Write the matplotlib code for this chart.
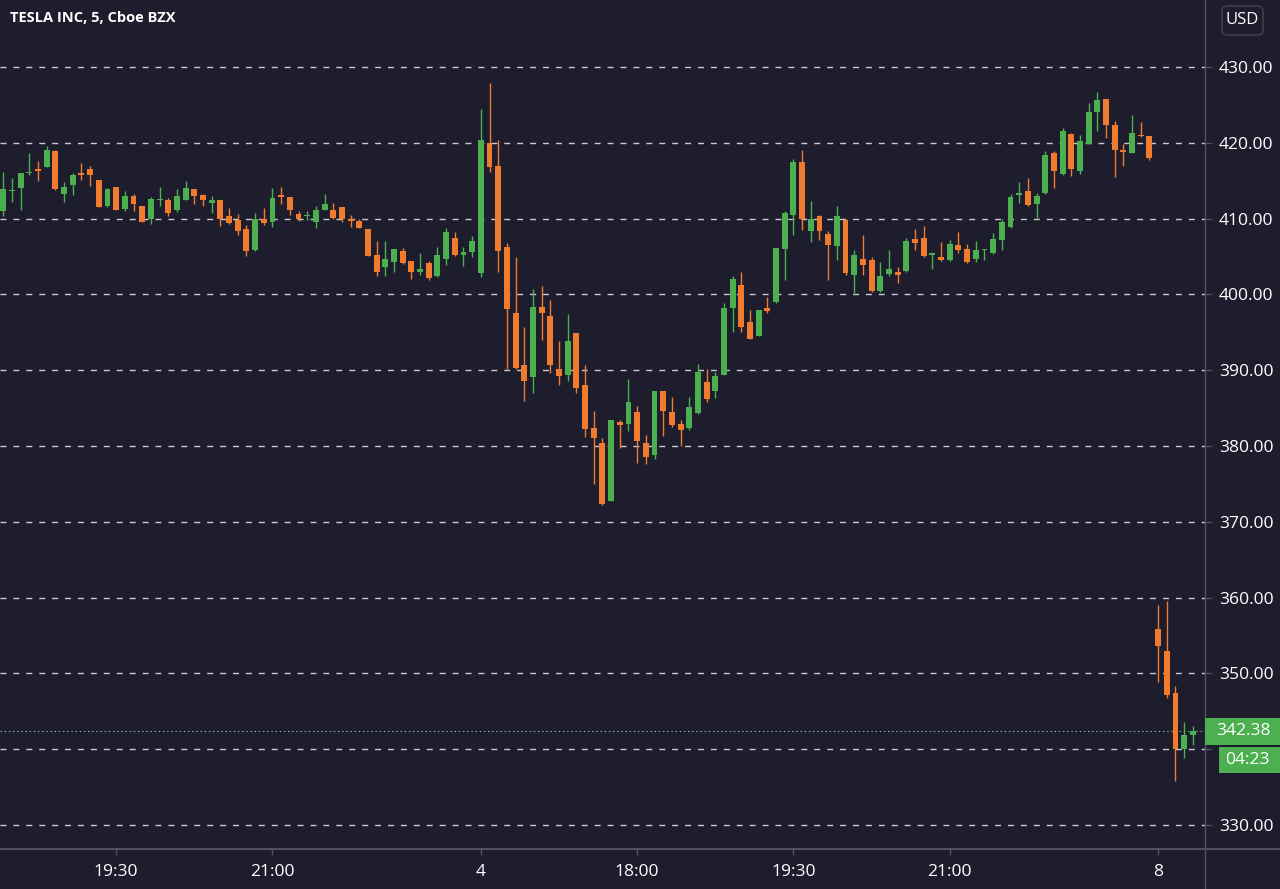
import matplotlib
matplotlib.use("Agg")
import matplotlib.pyplot as plt
from matplotlib.patches import FancyBboxPatch, Rectangle
from matplotlib.lines import Line2D
import numpy as np

plt.rcParams['font.family'] = ['Open Sans', 'DejaVu Sans']
plt.rcParams['lines.scale_dashes'] = False

# ---------------- data ----------------
opens = [411.0, 413.6, 414.1, 416.0, 416.5, 416.8, 418.9, 413.3, 414.4, 416.0,
         416.6, 415.1, 411.6, 414.2, 411.3, 413.0, 411.6, 410.0, 412.4, 412.4,
         411.1, 412.5, 413.9, 413.1, 412.1, 412.4, 410.3, 409.8, 408.6, 405.8,
         409.9, 409.6, 413.1, 412.9, 410.6, 410.3, 409.5, 411.1, 411.1, 411.5,
         409.9, 409.7, 408.6, 405.2, 403.6, 404.3, 405.7, 404.4, 403.0, 404.2,
         402.4, 404.7, 407.4, 405.2, 405.6, 402.8, 420.0, 416.9, 406.3, 397.5,
         390.7, 389.1, 398.3, 397.2, 390.2, 389.3, 394.9, 388.0, 382.4, 380.4,
         372.8, 383.1, 382.9, 384.5, 380.4, 378.8, 387.2, 384.5, 382.9, 382.4,
         384.4, 388.5, 387.2, 389.4, 398.2, 401.3, 396.4, 394.5, 398.2, 399.0,
         406.0, 410.5, 417.5, 408.4, 410.3, 408.0, 406.4, 409.8, 402.6, 404.7,
         404.5, 400.4, 402.7, 403.0, 403.1, 407.3, 407.5, 405.2, 404.9, 404.5,
         406.5, 406.0, 404.7, 405.8, 405.4, 407.2, 408.9, 413.1, 413.7, 411.9,
         413.4, 418.6, 415.9, 421.2, 416.3, 419.9, 424.1, 425.8, 422.3, 419.0,
         418.7, 421.0, 420.9, 355.9, 353.0, 347.4, 340.0, 341.9]
highs = [416.2, 415.3, 416.0, 418.7, 417.6, 419.6, 419.0, 414.8, 416.0, 417.4,
         416.9, 415.1, 414.1, 414.2, 413.6, 413.3, 411.6, 412.9, 414.2, 412.7,
         413.9, 415.0, 413.9, 413.3, 413.0, 412.5, 411.4, 410.6, 409.2, 410.7,
         411.4, 414.0, 414.2, 412.9, 411.0, 411.0, 411.7, 413.3, 412.0, 411.5,
         410.5, 409.9, 408.6, 407.0, 407.1, 406.0, 406.1, 404.4, 405.4, 404.4,
         406.3, 408.7, 408.2, 406.2, 407.7, 424.5, 427.9, 420.4, 406.8, 404.9,
         395.7, 400.7, 401.1, 399.3, 393.8, 397.4, 394.9, 390.7, 384.6, 381.1,
         383.4, 383.4, 388.9, 385.3, 381.5, 387.3, 387.2, 386.4, 383.4, 386.5,
         390.8, 390.1, 389.8, 398.8, 402.4, 402.9, 397.9, 398.0, 399.6, 406.1,
         411.0, 417.9, 419.0, 412.3, 410.5, 408.3, 411.6, 409.9, 405.8, 407.8,
         404.9, 404.3, 405.8, 403.6, 407.4, 408.6, 409.0, 405.5, 406.9, 407.2,
         408.2, 406.7, 407.0, 406.0, 408.1, 410.0, 413.3, 414.8, 415.4, 413.4,
         418.9, 418.9, 422.0, 421.3, 421.0, 425.2, 426.7, 425.8, 422.9, 419.9,
         423.7, 422.8, 420.9, 359.0, 359.6, 348.3, 343.6, 343.0]
lows = [410.3, 412.2, 411.1, 415.7, 414.9, 416.8, 413.8, 412.2, 413.1, 415.1,
        414.3, 411.5, 411.5, 411.1, 411.0, 411.0, 409.5, 409.3, 411.7, 410.3,
        410.9, 412.4, 411.9, 411.6, 410.7, 409.0, 409.3, 407.9, 405.0, 405.7,
        409.1, 408.9, 411.9, 410.5, 409.7, 409.8, 408.7, 411.1, 410.0, 409.6,
        408.9, 408.7, 405.1, 402.4, 402.4, 403.0, 404.0, 402.0, 402.5, 401.9,
        402.3, 403.9, 405.1, 403.8, 404.9, 402.3, 416.2, 403.0, 390.1, 390.1,
        386.0, 387.0, 394.0, 389.6, 388.1, 388.6, 387.0, 381.2, 375.0, 372.2,
        372.7, 379.8, 382.0, 377.8, 377.6, 378.3, 381.3, 382.5, 380.0, 382.1,
        384.2, 385.8, 386.3, 389.4, 395.0, 395.1, 394.1, 394.5, 397.6, 398.9,
        401.9, 407.9, 408.5, 406.9, 407.2, 401.9, 404.5, 402.5, 400.1, 402.5,
        400.3, 400.3, 402.4, 401.5, 403.0, 405.8, 404.9, 403.3, 404.4, 404.4,
        405.5, 404.2, 404.3, 404.5, 405.3, 405.9, 408.8, 412.1, 411.6, 410.1,
        413.3, 414.1, 415.7, 415.6, 415.9, 419.9, 421.5, 420.6, 415.5, 416.9,
        418.7, 420.7, 417.7, 348.9, 346.7, 335.8, 338.8, 340.5]
closes = [413.9, 413.8, 416.0, 416.2, 416.3, 419.0, 413.9, 414.2, 415.7, 415.7,
          415.7, 411.5, 413.9, 411.1, 413.0, 411.9, 409.6, 412.6, 412.6, 410.8,
          413.0, 414.0, 413.0, 412.4, 412.5, 409.9, 409.4, 408.3, 405.7, 409.9,
          409.4, 412.7, 412.8, 411.2, 410.0, 410.5, 411.2, 411.9, 410.1, 409.9,
          409.7, 408.8, 405.1, 402.9, 404.7, 406.0, 404.1, 403.0, 403.3, 402.1,
          405.2, 408.2, 405.2, 405.6, 407.1, 420.4, 416.8, 405.7, 398.1, 390.3,
          388.6, 398.3, 397.6, 390.7, 389.2, 393.8, 387.7, 382.2, 381.0, 372.3,
          383.4, 382.8, 385.8, 380.7, 378.6, 387.3, 384.6, 382.8, 382.1, 385.1,
          389.7, 386.2, 389.2, 398.2, 402.0, 395.7, 394.1, 397.9, 397.8, 406.1,
          410.7, 417.5, 410.0, 410.0, 408.3, 406.5, 410.3, 402.8, 405.2, 403.9,
          400.5, 402.4, 403.4, 402.6, 407.1, 406.8, 405.0, 405.4, 404.6, 406.7,
          405.9, 404.3, 405.9, 406.0, 407.3, 409.6, 412.8, 413.4, 411.8, 413.0,
          418.4, 416.3, 421.5, 416.5, 420.2, 424.0, 425.6, 422.3, 419.1, 418.8,
          421.3, 420.9, 418.0, 353.6, 347.1, 340.0, 341.9, 342.38]

time_tick_idx = [13, 31, 55, 73, 91, 109, 133]
time_tick_labels = ['19:30', '21:00', '4', '18:00', '19:30', '21:00', '8']
price_ticks = [330, 340, 350, 360, 370, 380, 390, 400, 410, 420, 430]
title = 'TESLA INC, 5, Cboe BZX'
last_price = 342.38
countdown = '04:23'
currency = 'USD'

# ---------------- style ----------------
BG = '#1e1d2d'
UP = '#4caf50'
DOWN = '#f07b2e'
GRID = '#c9c9cf'
AXLINE = '#50505f'
TXT = '#ffffff'
FS = 12.6

W, H = 1280, 889
fig = plt.figure(figsize=(W / 100, H / 100), dpi=100, facecolor=BG)
ax_left, ax_right, ax_top, ax_bot = 0, 1205, 0, 849
ax = fig.add_axes([ax_left / W, (H - ax_bot) / H, (ax_right - ax_left) / W, (ax_bot - ax_top) / H])
ax.set_facecolor(BG)

o = np.array(opens); h = np.array(highs); l = np.array(lows); c = np.array(closes)
x = np.arange(len(o))
up = c >= o
cols = np.where(up, UP, DOWN)

ax.set_ylim(326.83, 438.84)
ax.set_xlim(-0.38, 138.4)

# grid
for p in price_ticks:
    ax.axhline(p, color=GRID, lw=1.0, linestyle=(0, (4.3, 5.0)), zorder=1)

# wicks
ax.vlines(x, l, h, colors=cols, linewidth=1.0, zorder=3)
# bodies
body_bot = np.minimum(o, c)
body_h = np.maximum(np.abs(c - o), 0.18)
ax.bar(x, body_h, bottom=body_bot, width=0.68, color=cols, edgecolor='none', zorder=4)

# last price dotted line
ax.axhline(last_price, color='#8fb59a', lw=0.8, linestyle=(0, (1, 2)), zorder=2)

# axes styling
for s in ['top', 'left']:
    ax.spines[s].set_visible(False)
ax.spines['bottom'].set_color(AXLINE)
ax.spines['right'].set_color(AXLINE)
ax.spines['bottom'].set_linewidth(1.5)
ax.spines['right'].set_linewidth(1.0)

ax.yaxis.tick_right()
ax.set_yticks(price_ticks)
ax.set_yticklabels(['' if p == 340 else f'{p:.2f}' for p in price_ticks])
ax.tick_params(axis='y', colors=AXLINE, labelcolor=TXT, length=5, width=1, pad=5, labelsize=FS)
ax.set_xticks(time_tick_idx)
ax.set_xticklabels(time_tick_labels)
ax.tick_params(axis='x', colors=AXLINE, labelcolor=TXT, length=4, width=1, pad=7, labelsize=FS)

# extend axis lines
fig.add_artist(Line2D([ax_right / W, 1], [(H - ax_bot) / H] * 2, color=AXLINE, lw=1.5))
fig.add_artist(Line2D([ax_right / W] * 2, [0, (H - ax_bot) / H], color=AXLINE, lw=1.0))

# title
fig.text(10 / W, 1 - 18 / H, title, color=TXT, fontsize=10.5, fontweight='bold', va='center', ha='left')

# USD box
fig.add_artist(FancyBboxPatch((1222 / W, 1 - 35 / H), 41 / W, 29 / H,
                              boxstyle='round,pad=0,rounding_size=0.005',
                              facecolor=BG, edgecolor='#3e3e4e', lw=1.2, transform=fig.transFigure))
fig.text(1242.5 / W, 1 - 20.5 / H, currency, color=TXT, fontsize=12, ha='center', va='center')

# last price labels
fig.add_artist(Rectangle((1205 / W, 1 - 745 / H), 75 / W, 27 / H, facecolor=UP, edgecolor='none',
                         transform=fig.transFigure, zorder=5))
fig.text(1243 / W, 1 - 731 / H, f'{last_price:.2f}', color=TXT, fontsize=FS, ha='center', va='center', zorder=6)
fig.add_artist(Rectangle((1219 / W, 1 - 773 / H), 61 / W, 26 / H, facecolor=UP, edgecolor='none',
                         transform=fig.transFigure, zorder=5))
fig.text(1247 / W, 1 - 759.5 / H, countdown, color=TXT, fontsize=FS, ha='center', va='center', zorder=6)

fig.savefig('out.png', dpi=100, facecolor=BG)
